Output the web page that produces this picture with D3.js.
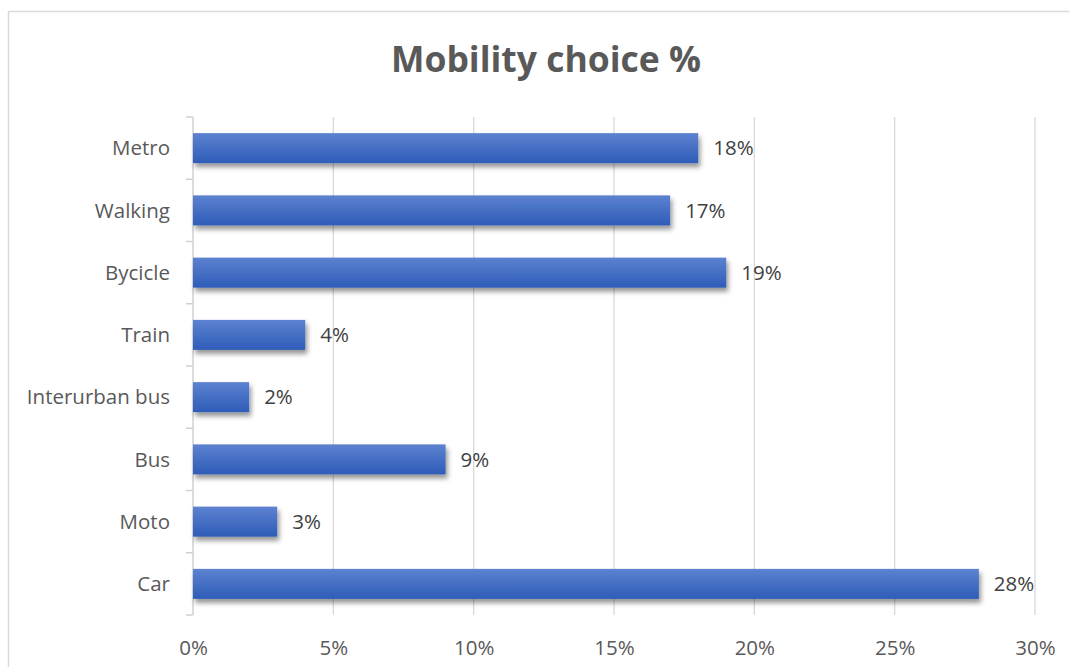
<!DOCTYPE html>
<html>
<head>
<meta charset="utf-8">
<script src="https://cdn.jsdelivr.net/npm/d3@7"></script>
<style>
  html, body { margin: 0; padding: 0; background: #fff; }
  svg { display: block; }
  text { font-family: "Open Sans", "Noto Sans", sans-serif; }
</style>
</head>
<body>
<svg id="chart" width="1069" height="667"></svg>
<script>
// Share of respondents choosing each mode (percent)
const categories = ["Metro", "Walking", "Bycicle", "Train", "Interurban bus", "Bus", "Moto", "Car"];
const shares = [18, 17, 19, 4, 2, 9, 3, 28];
const xTicks = [0, 5, 10, 15, 20, 25, 30];
const title = "Mobility choice %";

const svg = d3.select("#chart");
const W = 1069, H = 667;
const plot = { left: 193, right: 1035, top: 117, bottom: 615 };
const labelSize = 20.5;

// Outer chart frame
svg.append("rect")
  .attr("x", 8.5).attr("y", 11.5)
  .attr("width", W + 10).attr("height", H + 10)
  .attr("fill", "#fff").attr("stroke", "#d9d9d9").attr("stroke-width", 1.5);

const defs = svg.append("defs");
const grad = defs.append("linearGradient")
  .attr("id", "barFill").attr("x1", 0).attr("y1", 0).attr("x2", 0).attr("y2", 1);
grad.append("stop").attr("offset", "0%").attr("stop-color", "#5d82d0");
grad.append("stop").attr("offset", "100%").attr("stop-color", "#2e5cb8");

const shadow = defs.append("filter").attr("id", "barShadow")
  .attr("x", "-5%").attr("y", "-30%").attr("width", "115%").attr("height", "180%");
shadow.append("feDropShadow")
  .attr("dx", 2).attr("dy", 4).attr("stdDeviation", 2.5)
  .attr("flood-color", "#000").attr("flood-opacity", 0.42);

const x = d3.scaleLinear().domain([0, 30]).range([plot.left, plot.right]);
const y = d3.scaleBand().domain(categories).range([plot.top, plot.bottom])
  .paddingInner(0.518).paddingOuter(0.259);

// Vertical gridlines
svg.append("g").selectAll("line").data(xTicks.slice(1)).join("line")
  .attr("x1", d => x(d)).attr("x2", d => x(d))
  .attr("y1", plot.top).attr("y2", plot.bottom)
  .attr("stroke", "#d9d9d9").attr("stroke-width", 1.3);

// X axis labels
const xAxis = d3.axisBottom(x).tickValues(xTicks).tickSize(0).tickPadding(0)
  .tickFormat(d => d + "%");
svg.append("g").attr("transform", `translate(0,${plot.bottom + 40})`)
  .call(xAxis)
  .call(g => g.select(".domain").remove())
  .call(g => g.selectAll("text").attr("dy", 0).attr("y", 0)
    .attr("fill", "#595959").attr("font-size", labelSize));

// Category axis with tick marks between bands
svg.append("line")
  .attr("x1", plot.left).attr("x2", plot.left)
  .attr("y1", plot.top).attr("y2", plot.bottom)
  .attr("stroke", "#d0d0d0").attr("stroke-width", 1.5);
const bounds = d3.range(categories.length + 1).map(i => plot.top + i * y.step());
svg.append("g").selectAll("line").data(bounds).join("line")
  .attr("x1", plot.left - 7).attr("x2", plot.left)
  .attr("y1", d => d).attr("y2", d => d)
  .attr("stroke", "#d0d0d0").attr("stroke-width", 1.5);
svg.append("g").selectAll("text").data(categories).join("text")
  .attr("x", plot.left - 23)
  .attr("y", d => y(d) + y.bandwidth() / 2)
  .attr("dy", "0.35em")
  .attr("text-anchor", "end")
  .attr("fill", "#595959").attr("font-size", labelSize)
  .text(d => d);

// Bars
const rows = categories.map((c, i) => ({ c, v: shares[i] }));
svg.append("g").selectAll("rect").data(rows).join("rect")
  .attr("x", x(0))
  .attr("y", d => y(d.c))
  .attr("width", d => x(d.v) - x(0))
  .attr("height", y.bandwidth())
  .attr("fill", "url(#barFill)")
  .attr("filter", "url(#barShadow)");

// Value labels
svg.append("g").selectAll("text").data(rows).join("text")
  .attr("x", d => x(d.v) + 15)
  .attr("y", d => y(d.c) + y.bandwidth() / 2)
  .attr("dy", "0.35em")
  .attr("fill", "#404040").attr("font-size", labelSize)
  .text(d => d.v + "%");

// Title
svg.append("text")
  .attr("x", 546).attr("y", 72)
  .attr("text-anchor", "middle")
  .attr("fill", "#595959").attr("font-size", 35.5).attr("font-weight", "bold")
  .text(title);
</script>
</body>
</html>
